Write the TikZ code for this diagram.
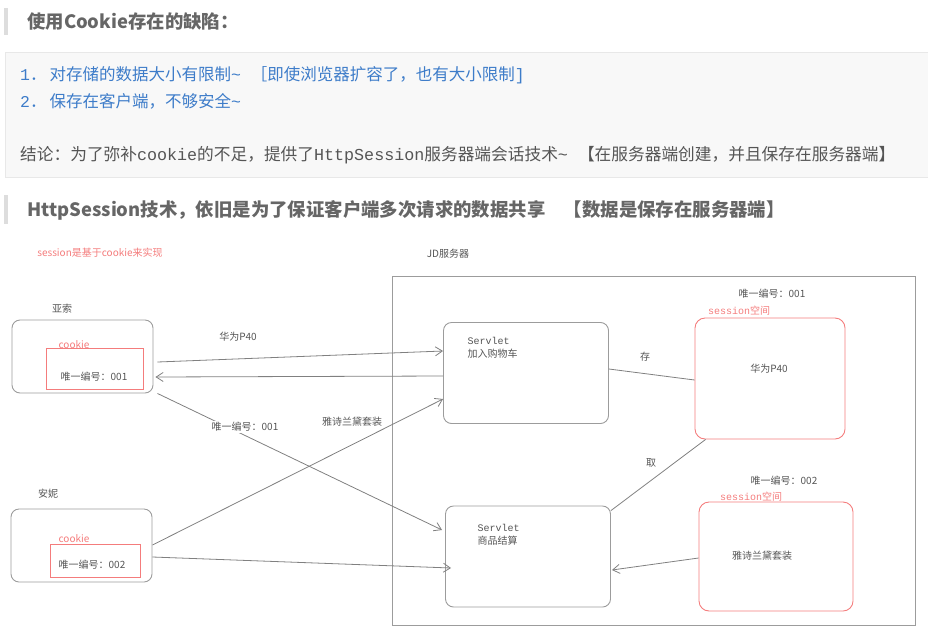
\documentclass[tikz,border=0pt]{standalone}
\usepackage{fontspec}
\setmainfont{Noto Sans CJK SC}
\newfontfamily\lat{Liberation Mono}
\usepackage{xcolor}
\definecolor{headgray}{HTML}{666666}
\definecolor{bargray}{HTML}{DDDDDD}
\definecolor{codebg}{HTML}{F8F8F8}
\definecolor{codeedge}{HTML}{E8E8E8}
\definecolor{codeblue}{HTML}{3D7CC9}
\definecolor{bodygray}{HTML}{555555}
\definecolor{boxedge}{HTML}{9C9C9C}
\definecolor{linegray}{HTML}{808080}
\definecolor{sessred}{HTML}{F47C7C}
\usepackage{tikz}
\usetikzlibrary{arrows.meta}

\begin{document}
\begin{tikzpicture}[
  x=1pt, y=-1pt,
  font=\fontsize{10}{13}\selectfont, text=bodygray,
  heading/.style={anchor=west, inner sep=0pt, text=headgray,
    font=\fontsize{18.4}{21}\selectfont\bfseries},
  codeline/.style={anchor=west, inner sep=0pt,
    font=\fontsize{16.5}{19}\selectfont},
  client/.style={draw=boxedge, line width=0.9pt, rounded corners=8pt,
    minimum width=141pt, minimum height=73pt},
  servlet/.style={draw=boxedge, line width=0.9pt, rounded corners=8pt,
    minimum width=165pt, minimum height=101pt},
  cookiebox/.style={draw=sessred, line width=0.9pt},
  sessbox/.style={draw=sessred, line width=0.9pt, rounded corners=10pt},
  rednote/.style={text=sessred},
  flow/.style={draw=linegray, line width=0.8pt,
    -{Straight Barb[length=7pt, width=9pt]}},
  link/.style={draw=linegray, line width=0.8pt}
]
  \useasboundingbox (0,0) rectangle (928,632);

  % notes above the diagram
  \fill[bargray] (4,8) rectangle (8,35);
  \node[heading] (h1) at (27,22) {使用Cookie存在的缺陷：};
  \filldraw[fill=codebg, draw=codeedge] (5,52) rectangle (928,177);
  \node[codeline, text=codeblue] (c1) at (20,75)
    {{\lat 1}．\hspace{3pt}对存储的数据大小有限制{\lat\textasciitilde\ }［即使浏览器扩容了，也有大小限制{\lat]}};
  \node[codeline, text=codeblue] (c2) at (20,101)
    {{\lat 2}．\hspace{3pt}保存在客户端，不够安全{\lat\textasciitilde}};
  \node[codeline, text=bodygray, font=\fontsize{16.7}{19}\selectfont] (c3) at (20,155)
    {结论：为了弥补{\lat cookie}的不足，提供了{\lat HttpSession}服务器端会话技术{\lat\textasciitilde\ }【在服务器端创建，并且保存在服务器端】};
  \fill[bargray] (4,195) rectangle (8,224);
  \node[heading] (h2) at (27,210)
    {HttpSession技术，依旧是为了保证客户端多次请求的数据共享\quad【数据是保存在服务器端】};

  % diagram
  \node[rednote] (base) at (100,253) {session是基于cookie来实现};
  \node (jdname) at (448,254) {JD服务器};
  \node[draw=boxedge, line width=0.9pt, minimum width=523pt,
    minimum height=349pt] (jd) at (653.5,450.5) {};

  \node (yname) at (62,309) {亚索};
  \node[client] (yasuo) at (82.5,356.5) {};
  \node[cookiebox, minimum width=97pt, minimum height=41pt] (ck1) at (94.5,368.5) {};
  \node[rednote] (ck1t) at (74,345) {cookie};
  \node (ck1id) at (94,377) {唯一编号：001};

  \node (aname) at (48,494) {安妮};
  \node[client] (anni) at (81.5,545.5) {};
  \node[cookiebox, minimum width=90pt, minimum height=33pt] (ck2) at (95,560.5) {};
  \node[rednote] (ck2t) at (74,539) {cookie};
  \node (ck2id) at (92,565) {唯一编号：002};

  \node[servlet] (sv1) at (526,373) {};
  \node[anchor=west, align=left] (sv1t) at (464,348) {{\lat Servlet}\\加入购物车};
  \node[servlet] (sv2) at (528,556.5) {};
  \node[anchor=west, align=left] (sv2t) at (474,535) {{\lat Servlet}\\商品结算};

  \node (id1) at (772,294) {唯一编号：001};
  \node[rednote] (sp1) at (739,311) {{\lat session}空间};
  \node[sessbox, minimum width=150pt, minimum height=121pt] (ss1) at (770,378.5) {};
  \node (ss1t) at (769,369) {华为P40};

  \node (id2) at (784,481) {唯一编号：002};
  \node[rednote] (sp2) at (751,497) {{\lat session}空间};
  \node[sessbox, minimum width=154pt, minimum height=109pt] (ss2) at (776,556.5) {};
  \node (ss2t) at (762,556) {雅诗兰黛套装};

  % requests and responses
  \draw[flow] ([xshift=4pt, yshift=-5.5pt]yasuo.east) -- ([yshift=22pt]sv1.west);
  \draw[flow] ([yshift=-3pt]sv1.west) -- ([xshift=2pt, yshift=-20.5pt]yasuo.east);
  \draw[flow] ([xshift=4pt]yasuo.south east) -- ([xshift=-3pt, yshift=26.5pt]sv2.west);
  \draw[flow] ([yshift=0.5pt]anni.east) -- ([yshift=-26pt]sv1.west);
  \draw[flow] ([yshift=-11.5pt]anni.east) -- ([xshift=6pt, yshift=-11.5pt]sv2.west);
  \draw[link] ([yshift=4pt]sv1.east) -- ([yshift=-1.5pt]ss1.west);
  \draw[link] ([yshift=-5pt]sv2.north east) -- ([xshift=11pt]ss1.south west);
  \draw[flow] ([yshift=-1.5pt]ss2.west) -- ([xshift=1pt, yshift=-13.5pt]sv2.east);

  \node (l1) at (238,337) {华为P40};
  \node[fill=white, inner sep=1pt] (l2) at (245,427) {唯一编号：001};
  \node (l3) at (352,422) {雅诗兰黛套装};
  \node (l4) at (645,357) {存};
  \node (l5) at (651,463) {取};
\end{tikzpicture}
\end{document}
